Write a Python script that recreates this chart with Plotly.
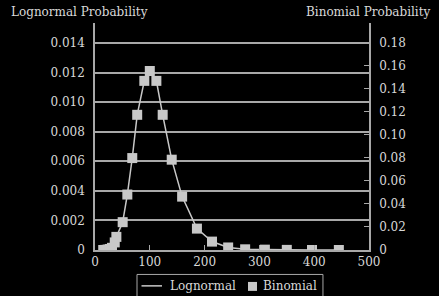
import plotly.graph_objects as go

price = [15, 19, 23, 27, 31, 36, 39, 50.5, 59, 68, 77, 90, 100, 112, 123.5,
         140, 159, 186, 213.5, 243, 274, 310, 350, 396, 445]
lognormal = [0.0, 0.00001, 0.00003, 0.00007, 0.00015, 0.00051, 0.00089, 0.00188,
             0.00375, 0.00622, 0.00914, 0.01144, 0.01211, 0.01144, 0.00914,
             0.00611, 0.00361, 0.00145, 0.00057, 0.00017, 0.00005, 0.00002,
             0.00001, 0.0, 0.0]
binomial = [0.0, 0.0001, 0.0004, 0.0009, 0.0019, 0.0066, 0.0114, 0.0242,
            0.0482, 0.0799, 0.1175, 0.147, 0.1556, 0.147, 0.1175, 0.0785,
            0.0464, 0.0186, 0.0073, 0.0022, 0.0006, 0.0003, 0.0001, 0.0, 0.0]

left_ticks = [0, 0.002, 0.004, 0.006, 0.008, 0.010, 0.012, 0.014]
left_labels = ["0", "0.002", "0.004", "0.006", "0.008", "0.010", "0.012", "0.014"]
right_ticks = [0, 0.02, 0.04, 0.06, 0.08, 0.10, 0.12, 0.14, 0.16, 0.18]
right_labels = ["0", "0.02", "0.04", "0.06", "0.08", "0.10", "0.12", "0.14", "0.16", "0.18"]
x_ticks = [0, 100, 200, 300, 400, 500]
series_names = ["Lognormal", "Binomial"]

txt = "#d8d8d8"
grid = "#a8a8a8"
mark = "#c8c8c8"
font = dict(family="DejaVu Serif", size=12, color=txt)

fig = go.Figure()
fig.add_trace(go.Scatter(x=price, y=lognormal, mode="lines", name=series_names[0],
                         line=dict(color=mark, width=1.5), yaxis="y"))
fig.add_trace(go.Scatter(x=price, y=binomial, mode="markers", name=series_names[1],
                         marker=dict(symbol="square", size=10, color=mark,
                                     line=dict(width=0)), yaxis="y2"))

# compact legend drawn in paper coordinates
shapes = [
    dict(type="rect", xref="paper", yref="paper", x0=0.1533, x1=0.832,
         y0=-0.23, y1=-0.1077, line=dict(color=grid, width=1), fillcolor="black"),
    dict(type="line", xref="paper", yref="paper", x0=0.1697, x1=0.2445,
         y0=-0.158, y1=-0.158, line=dict(color=mark, width=1.5)),
    dict(type="rect", xref="paper", yref="paper", x0=0.5584, x1=0.5912,
         y0=-0.1802, y1=-0.1407, line=dict(width=0), fillcolor=mark),
]

fig.update_layout(
    width=439, height=296,
    margin=dict(l=95, r=70, t=23, b=45.5, autoexpand=False),
    paper_bgcolor="black", plot_bgcolor="black",
    font=font,
    showlegend=False,
    xaxis=dict(range=[0, 500], tickvals=x_ticks, showgrid=False, zeroline=False,
               showline=True, linecolor=grid, linewidth=1.5,
               ticks="inside", ticklen=5, tickcolor=grid, tickwidth=1,
               tickfont=font, fixedrange=True, automargin=False),
    yaxis=dict(range=[0, 0.01535], tickvals=left_ticks, ticktext=left_labels,
               showgrid=True, gridcolor=grid, gridwidth=1.5, zeroline=False,
               showline=True, linecolor=grid, linewidth=1.5, ticks="",
               ticklabelstandoff=6, tickfont=font, automargin=False),
    yaxis2=dict(range=[0, 0.1973], tickvals=right_ticks, ticktext=right_labels,
                overlaying="y", side="right", showgrid=False, zeroline=False,
                showline=True, linecolor=grid, linewidth=1.5,
                ticks="inside", ticklen=5, tickcolor=grid, tickwidth=1,
                ticklabelstandoff=6, tickfont=font, automargin=False),
    shapes=shapes,
    annotations=[
        dict(text="Lognormal Probability", xref="paper", yref="paper",
             x=-0.315, y=1.0, xanchor="left", yanchor="bottom", yshift=2,
             showarrow=False, font=font),
        dict(text="Binomial Probability", xref="paper", yref="paper",
             x=1.235, y=1.0, xanchor="right", yanchor="bottom", yshift=2,
             showarrow=False, font=font),
        dict(text=series_names[0], xref="paper", yref="paper",
             x=0.2664, y=-0.158, xanchor="left", yanchor="middle",
             showarrow=False, font=font),
        dict(text=series_names[1], xref="paper", yref="paper",
             x=0.6058, y=-0.158, xanchor="left", yanchor="middle",
             showarrow=False, font=font),
    ],
)

fig.write_html("out.html", config={"displayModeBar": False},
               post_script="document.body.style.margin='0';document.body.style.background='black';")
